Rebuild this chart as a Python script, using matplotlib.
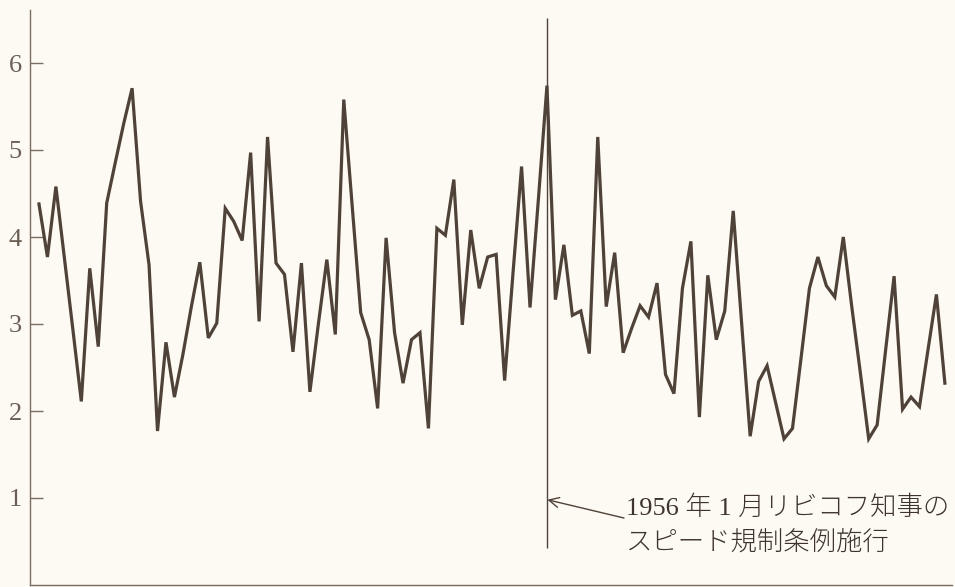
"""
コネチカット州の月別交通死亡率 (1951-1959) の折れ線グラフ。
1956年1月のスピード規制条例施行を縦線で示す。
"""

import matplotlib
matplotlib.use("Agg")
import matplotlib.pyplot as plt

# ── データ (1951年1月〜1959年12月, 月別) ──
rates = [
    4.38, 3.77, 4.58, 3.76, 2.94, 2.11, 3.64, 2.74, 4.39, 4.85, 5.30, 5.71,
    4.41, 3.68, 1.77, 2.79, 2.16, 2.65, 3.20, 3.71, 2.84, 3.01, 4.33, 4.18,
    3.96, 4.97, 3.03, 5.15, 3.70, 3.57, 2.68, 3.70, 2.22, 3.00, 3.74, 2.88,
    5.58, 4.35, 3.13, 2.82, 2.03, 3.99, 2.90, 2.32, 2.82, 2.90, 1.80, 4.10,
    4.02, 4.66, 2.99, 4.08, 3.41, 3.77, 3.80, 2.35, 3.60, 4.81, 3.19, 4.45,
    5.74, 3.28, 3.91, 3.10, 3.15, 2.66, 5.15, 3.20, 3.82, 2.67, 2.95, 3.21,
    3.08, 3.47, 2.42, 2.20, 3.41, 3.95, 1.93, 3.56, 2.82, 3.15, 4.30, 3.00,
    1.71, 2.34, 2.52, 2.10, 1.68, 1.80, 2.60, 3.41, 3.77, 3.44, 3.31, 4.00,
    3.20, 2.45, 1.68, 1.84, 2.70, 3.55, 2.02, 2.16, 2.05, 2.70, 3.34, 2.32,
]
months = list(range(len(rates)))
y_ticks = [1, 2, 3, 4, 5, 6]
law_month = 60          # 1956年1月
note = "1956 年 1 月リビコフ知事の\nスピード規制条例施行"

BG = "#fcfaf3"
INK = "#4f4238"
AXIS = "#7a6d62"

fig = plt.figure(figsize=(9.55, 5.87), dpi=100)
fig.patch.set_facecolor(BG)
ax = fig.add_axes([30 / 955, 2 / 587, 922 / 955, 575 / 587])
ax.set_facecolor(BG)

ax.plot(months, rates, "-", color=INK, linewidth=2.3, solid_joinstyle="miter")

# 条例施行の縦線
ax.vlines(law_month, 0.43, 6.52, color=INK, linewidth=1.0)

# 注記と矢印
ax.text(law_month + 9.3, 0.69, note, fontsize=19, color="#3e342d",
        va="center", ha="left", linespacing=1.5,
        family=["Liberation Serif", "Noto Sans CJK JP"], fontweight="light")
ax.annotate("", xy=(law_month + 0.05, 0.98), xytext=(law_month + 9.1, 0.77),
            arrowprops=dict(arrowstyle="->", color=INK, lw=1.0,
                            shrinkA=0, shrinkB=0, mutation_scale=18))

# 軸
ax.set_xlim(-1.06, 107.84)
ax.set_ylim(0, 575 / 87)
ax.set_yticks(y_ticks)
ax.set_yticklabels([str(t) for t in y_ticks],
                   family="Liberation Serif", fontsize=19, color="#6b5e55")
ax.tick_params(axis="y", direction="in", length=9, width=1.0,
               color=AXIS, pad=6)
ax.set_xticks([])
for side in ("top", "right"):
    ax.spines[side].set_visible(False)
for side in ("left", "bottom"):
    ax.spines[side].set_color(AXIS)
    ax.spines[side].set_linewidth(1.0)

plt.savefig("out.png", dpi=100, facecolor=BG)
plt.close()
